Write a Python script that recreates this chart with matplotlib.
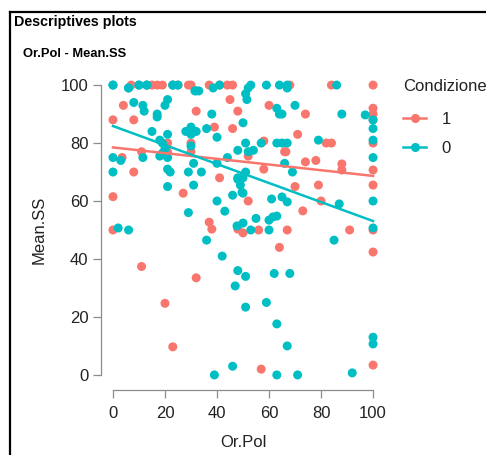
import numpy as np
import matplotlib.pyplot as plt
from matplotlib.lines import Line2D

plt.rcParams['font.family'] = ['Liberation Sans', 'DejaVu Sans']

# gruppo 1 (salmone)
or_pol_1 = [7, 15, 17, 19, 29, 30, 37, 44, 46, 68, 84, 100,
            13, 23, 25, 41,
            4, 32, 0, 8, 21, 30, 21, 11, 3.5, 8, 30,
            45, 48, 60, 39, 46, 58, 66.5, 52, 58, 41,
            74, 100, 100, 100, 71, 82, 84, 100, 66, 74, 78, 88, 88, 100,
            0, 27, 0, 11, 32,
            52, 37, 38, 48, 50, 56, 67, 64,
            70, 79, 100, 80, 73, 91, 100, 100,
            20, 23, 57, 100]
mean_ss_1 = [100, 100, 100, 100, 100, 100, 100, 100, 100, 100, 100, 100,
             100, 100, 100, 100,
             93, 91, 88, 88, 80, 80, 77, 77, 75, 70, 77,
             95, 91, 93, 85.5, 85, 80.7, 77, 75.5, 71, 68,
             90, 92, 90, 88, 83, 80, 80, 80, 77, 73.5, 74, 72.8, 70.7, 70.7,
             61.5, 62.7, 50, 37.4, 33.5,
             60, 52.7, 50.3, 50.3, 49, 50, 50, 44,
             65, 65.5, 65.5, 60, 56.6, 50, 50, 42.4,
             24.7, 9.7, 2, 3.4]

# gruppo 0 (turchese)
or_pol_0 = [0, 6, 10, 13, 23, 25, 31.5, 8, 11.5, 12, 20, 21, 17, 17, 15, 21, 18, 19,
            0, 10, 13, 23, 6,
            28, 30, 30, 20, 19, 18, 21, 11.5, 0, 3, 0, 21, 22, 29,
            38.5, 41, 53, 52, 59, 64, 67, 32, 33, 51, 51.5, 38, 63, 64, 50, 30, 32, 36,
            40, 51, 48, 52, 54, 57, 63, 65, 67, 44, 31, 34, 40, 48, 51,
            67, 86, 70, 65, 88, 97, 100, 100, 79, 100, 100, 66, 69,
            21, 31, 29, 2, 6,
            48, 50, 49, 49.6, 50, 46, 40, 43, 61, 65, 67, 47.7, 50, 53, 55, 60, 61.5, 63, 60,
            36, 42, 48, 51, 62, 68,
            100, 87, 100, 85,
            47, 51, 59, 63, 67, 46, 39, 63, 71, 92, 100, 100]
mean_ss_0 = [100, 99, 100, 100, 100, 100, 98, 94, 93, 91, 93, 95, 90, 89, 84, 83, 81, 80,
             100, 100, 100, 100, 99,
             84, 83, 79, 78, 76.5, 75.5, 75, 75, 75, 74, 70, 71, 70, 70,
             99, 100, 100, 99, 100, 100, 100, 98, 98, 97, 95, 90, 92, 90, 87, 85.5, 84, 85,
             82, 80, 77.5, 77, 77.5, 80, 80, 80, 80, 75, 73, 70, 73, 68, 70,
             99, 100, 93, 90, 90, 89.7, 88, 85, 81, 81, 75, 73, 70,
             65, 65.5, 56, 50.7, 50,
             67.5, 68, 65.5, 63, 62.7, 62, 60, 56.5, 60.7, 61.4, 59.7, 51.4, 52.4, 50, 54, 53.4, 54.5, 54.8, 50,
             46.5, 41, 36, 34, 35, 35,
             60, 59, 50.7, 46.5,
             30.7, 23.4, 25, 17.6, 10, 3, 0, 0, 0, 0.7, 13, 10.7]

gruppi = ['1', '0']
colori = ['#F8766D', '#00BFC4']
xticks = [0, 20, 40, 60, 80, 100]
yticks = [0, 20, 40, 60, 80, 100]

fig = plt.figure(figsize=(4.86, 4.55), dpi=100)
ax = fig.add_axes([101 / 486, 65 / 455, 284 / 486, 320 / 455])

datos = [(or_pol_1, mean_ss_1), (or_pol_0, mean_ss_0)]
manejadores = []
for (xs, ys), col, lab in zip(datos, colori, gruppi):
    xs = np.array(xs)
    ys = np.array(ys)
    ax.scatter(xs, ys, s=42, color=col, edgecolors='none', zorder=3)
    # retta di regressione
    b, a = np.polyfit(xs, ys, 1)
    xr = np.array([0, 100])
    ax.plot(xr, a + b * xr, color=col, lw=1.8, zorder=4)
    manejadores.append(Line2D([], [], color=col, lw=1.8, marker='o', markersize=5.5, label=lab))

ax.set_xlim(-4.6, 104.6)
ax.set_ylim(-5.2, 105.2)
ax.set_xticks(xticks)
ax.set_yticks(yticks)
for lado in ['top', 'right']:
    ax.spines[lado].set_visible(False)
ax.spines['bottom'].set_bounds(0, 100)
ax.spines['left'].set_bounds(0, 100)
for lado in ['bottom', 'left']:
    ax.spines[lado].set_color('#8c8c8c')
    ax.spines[lado].set_linewidth(0.9)
ax.tick_params(colors='#8c8c8c', labelcolor='#222222', labelsize=12, length=5.5, width=0.9)
ax.tick_params(axis='x', pad=6)
ax.set_xlabel('Or.Pol', size=12, color='#222222', labelpad=10)
ax.set_ylabel('Mean.SS', size=12, color='#222222', labelpad=10)

leg = ax.legend(handles=manejadores, title='Condizione', loc='upper left',
                bbox_to_anchor=(403 / 486, 1 - 79 / 455), bbox_transform=fig.transFigure,
                frameon=False, fontsize=12, title_fontsize=12, alignment='left',
                handlelength=1.4, handletextpad=0.9, labelspacing=0.85, borderpad=0,
                borderaxespad=0)
leg._legend_box.sep = 13
for t in leg.get_texts():
    t.set_color('#222222')
leg.get_title().set_color('#222222')

# titoli e cornice del pannello
fig.text(14 / 486, 1 - 22 / 455, 'Descriptives plots', weight='bold', size=10.3, va='center')
fig.text(23 / 486, 1 - 54 / 455, 'Or.Pol - Mean.SS', weight='bold', size=9.3, va='center')
fig.add_artist(Line2D([10 / 486, 10 / 486], [0, 1 - 12 / 455], color='black', lw=1.6,
                      transform=fig.transFigure))
fig.add_artist(Line2D([10 / 486, 1], [1 - 12 / 455, 1 - 12 / 455], color='black', lw=1.6,
                      transform=fig.transFigure))

fig.savefig('out.png', dpi=100)
